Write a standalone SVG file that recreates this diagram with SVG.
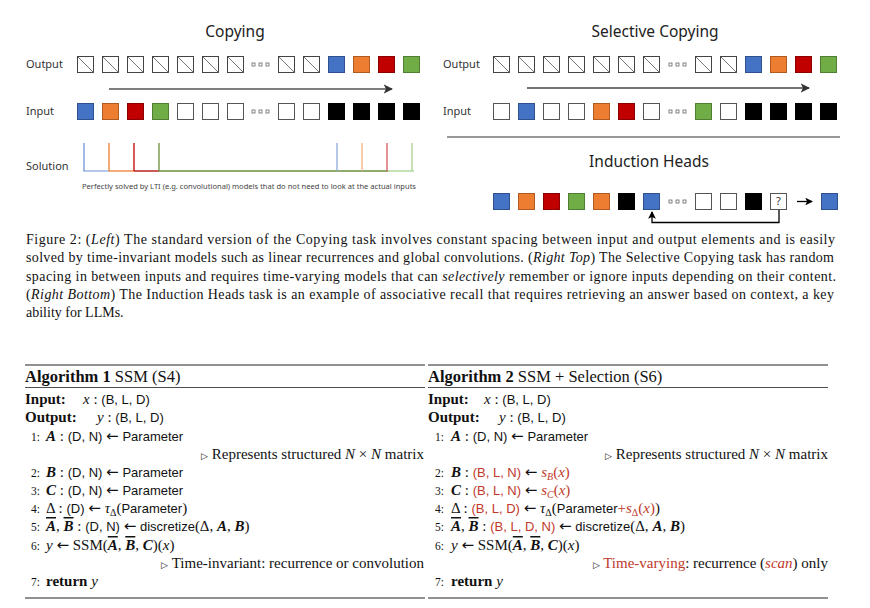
<svg xmlns="http://www.w3.org/2000/svg" width="870" height="608" viewBox="0 0 870 608">
<style>
.ttl{font-family:"Noto Sans","Open Sans",sans-serif;font-size:15.5px;fill:#222}
.lbl{font-family:"Noto Sans","Open Sans",sans-serif;font-size:11px;fill:#333}
.note{font-family:"Noto Sans","Open Sans",sans-serif;font-size:7.4px;fill:#444}
.cap{font-family:"Liberation Serif",serif;font-size:14px;fill:#111}
.al{font-family:"Liberation Serif",serif;font-size:15px;fill:#111}
.ah{font-family:"DejaVu Sans",sans-serif;font-size:15px}
.sf{font-family:"Liberation Sans","DejaVu Sans",sans-serif;font-size:13px}
.num{font-size:11.5px}
.hd{font-size:16.5px}
.b{font-weight:bold}
.i{font-style:italic}
.bi{font-weight:bold;font-style:italic}
.r{fill:#c0392b}
.ov{text-decoration:overline}
.sub{font-size:10px}
.tri{font-size:9px}
.blue{fill:#4472c4;stroke:#2f528f}
.orange{fill:#ed7d31;stroke:#ae5a21}
.red{fill:#c00000;stroke:#8c0000}
.green{fill:#70ad47;stroke:#507e32}
.black{fill:#000;stroke:#000}
.white{fill:#fff;stroke:#555}
.rule{stroke:#222}
</style>
<defs>
<g id="dg"><rect x="0.5" y="0.5" width="16" height="16" fill="#fff" stroke="#444"/><line x1="1" y1="1" x2="16.5" y2="16.5" stroke="#777"/></g>
<rect id="bB" x="0.5" y="0.5" width="16" height="16" class="blue"/>
<rect id="bO" x="0.5" y="0.5" width="16" height="16" class="orange"/>
<rect id="bR" x="0.5" y="0.5" width="16" height="16" class="red"/>
<rect id="bG" x="0.5" y="0.5" width="16" height="16" class="green"/>
<rect id="bK" x="0.5" y="0.5" width="16" height="16" class="black"/>
<rect id="bW" x="0.5" y="0.5" width="16" height="16" class="white"/>
<g id="dots" fill="#fff" stroke="#666" stroke-width="0.8"><rect x="0" y="0" width="3" height="3"/><rect x="7" y="0" width="3" height="3"/><rect x="14" y="0" width="3" height="3"/></g>
<marker id="ah" viewBox="0 0 8 8" refX="7" refY="4" markerWidth="6" markerHeight="6" orient="auto"><path d="M0,0 L8,4 L0,8 L2,4 z" fill="#333"/></marker>
<marker id="ahk" viewBox="0 0 8 8" refX="7" refY="4" markerWidth="6" markerHeight="6" orient="auto"><path d="M0,0 L8,4 L0,8 L2,4 z" fill="#000"/></marker>
</defs>

<!-- Copying panel -->
<g id="copying">
<text class="ttl" x="235" y="37" text-anchor="middle">Copying</text>
<text class="lbl" x="26" y="68">Output</text>
<text class="lbl" x="26" y="115">Input</text>
<g id="copy-output">
<use href="#dg" x="77" y="56"/><use href="#dg" x="102" y="56"/><use href="#dg" x="127" y="56"/><use href="#dg" x="152" y="56"/><use href="#dg" x="177" y="56"/><use href="#dg" x="202" y="56"/><use href="#dg" x="227" y="56"/>
<use href="#dots" x="252" y="63"/>
<use href="#dg" x="278" y="56"/><use href="#dg" x="303" y="56"/>
<use href="#bB" x="328" y="56"/><use href="#bO" x="353" y="56"/><use href="#bR" x="378" y="56"/><use href="#bG" x="403" y="56"/>
</g>
<line x1="109" y1="89" x2="392" y2="89" stroke="#555" stroke-width="1.6" marker-end="url(#ah)"/>
<g id="copy-input">
<use href="#bB" x="77" y="103"/><use href="#bO" x="102" y="103"/><use href="#bR" x="127" y="103"/><use href="#bG" x="152" y="103"/>
<use href="#bW" x="177" y="103"/><use href="#bW" x="202" y="103"/><use href="#bW" x="227" y="103"/>
<use href="#dots" x="252" y="110"/>
<use href="#bW" x="278" y="103"/><use href="#bW" x="303" y="103"/>
<use href="#bK" x="328" y="103"/><use href="#bK" x="353" y="103"/><use href="#bK" x="378" y="103"/><use href="#bK" x="403" y="103"/>
</g>
<g id="solution">
<text class="lbl" x="26" y="170">Solution</text>
<g stroke-width="1.3">
<line x1="83" y1="171" x2="109" y2="171" stroke="#8eaadb"/>
<line x1="109" y1="171" x2="134" y2="171" stroke="#ed7d31"/>
<line x1="134" y1="171" x2="159" y2="171" stroke="#b00000"/>
<line x1="159" y1="171" x2="388" y2="171" stroke="#6b8e3a"/>
<line x1="388" y1="171" x2="414" y2="171" stroke="#a9d18e"/>
<line x1="84" y1="143" x2="84" y2="171" stroke="#6e94d8"/>
<line x1="109" y1="143" x2="109" y2="171" stroke="#ed7d31"/>
<line x1="134" y1="143" x2="134" y2="171" stroke="#c00000"/>
<line x1="159" y1="143" x2="159" y2="171" stroke="#6b8e3a"/>
<line x1="337" y1="143" x2="337" y2="171" stroke="#8eaadb"/>
<line x1="362" y1="143" x2="362" y2="171" stroke="#f4b183"/>
<line x1="387" y1="143" x2="387" y2="171" stroke="#d9595e"/>
<line x1="412" y1="143" x2="412" y2="171" stroke="#a9d18e"/>
</g>
<text class="note" x="82" y="189" textLength="334" lengthAdjust="spacingAndGlyphs">Perfectly solved by LTI (e.g. convolutional) models that do not need to look at the actual inputs</text>
</g>
</g>

<!-- Selective Copying panel -->
<g id="selective-copying">
<text class="ttl" x="655" y="37" text-anchor="middle">Selective Copying</text>
<text class="lbl" x="443" y="68">Output</text>
<text class="lbl" x="443" y="115">Input</text>
<g id="sel-output">
<use href="#dg" x="493" y="56"/><use href="#dg" x="518" y="56"/><use href="#dg" x="543" y="56"/><use href="#dg" x="568" y="56"/><use href="#dg" x="593" y="56"/><use href="#dg" x="618" y="56"/><use href="#dg" x="643" y="56"/>
<use href="#dots" x="669" y="63"/>
<use href="#dg" x="695" y="56"/><use href="#dg" x="720" y="56"/>
<use href="#bB" x="745" y="56"/><use href="#bO" x="770" y="56"/><use href="#bR" x="795" y="56"/><use href="#bG" x="820" y="56"/>
</g>
<line x1="527" y1="88" x2="809" y2="88" stroke="#444" stroke-width="1.6" marker-end="url(#ah)"/>
<g id="sel-input">
<use href="#bW" x="493" y="103"/><use href="#bB" x="518" y="103"/><use href="#bW" x="543" y="103"/><use href="#bW" x="568" y="103"/><use href="#bO" x="593" y="103"/><use href="#bR" x="618" y="103"/><use href="#bW" x="643" y="103"/>
<use href="#dots" x="669" y="110"/>
<use href="#bG" x="695" y="103"/><use href="#bW" x="720" y="103"/>
<use href="#bK" x="745" y="103"/><use href="#bK" x="770" y="103"/><use href="#bK" x="795" y="103"/><use href="#bK" x="820" y="103"/>
</g>
</g>
<line x1="447" y1="137" x2="840" y2="137" stroke="#333" stroke-width="1"/>

<!-- Induction Heads panel -->
<g id="induction-heads">
<text class="ttl" x="649" y="167" text-anchor="middle">Induction Heads</text>
<use href="#bB" x="493" y="193"/><use href="#bO" x="518" y="193"/><use href="#bR" x="543" y="193"/><use href="#bG" x="568" y="193"/><use href="#bO" x="593" y="193"/><use href="#bK" x="618" y="193"/><use href="#bB" x="643" y="193"/>
<use href="#dots" x="669" y="200"/>
<use href="#bW" x="695" y="193"/><use href="#bW" x="720" y="193"/><use href="#bK" x="745" y="193"/>
<g id="query"><use href="#bW" x="770" y="193"/><text class="lbl" x="778.5" y="205" text-anchor="middle" font-size="10" fill="#555">?</text></g>
<use href="#bB" x="821" y="193"/>
</g>
<g id="connectors" fill="none">
<line x1="797" y1="201.5" x2="812" y2="201.5" stroke="#000" stroke-width="1.3" marker-end="url(#ahk)"/>
<path d="M779,210 V222.5 H652 V212" stroke="#000" stroke-width="1.3" marker-end="url(#ahk)"/>
</g>

<!-- Caption -->
<g id="caption">
<text class="cap" x="26" y="244" textLength="809" lengthAdjust="spacing">Figure 2: (<tspan class="i">Left</tspan>) The standard version of the Copying task involves constant spacing between input and output elements and is easily</text>
<text class="cap" x="26" y="262" textLength="808" lengthAdjust="spacing">solved by time-invariant models such as linear recurrences and global convolutions. (<tspan class="i">Right Top</tspan>) The Selective Copying task has random</text>
<text class="cap" x="26" y="281" textLength="810" lengthAdjust="spacing">spacing in between inputs and requires time-varying models that can <tspan class="i">selectively</tspan> remember or ignore inputs depending on their content.</text>
<text class="cap" x="26" y="299" textLength="808" lengthAdjust="spacing">(<tspan class="i">Right Bottom</tspan>) The Induction Heads task is an example of associative recall that requires retrieving an answer based on context, a key</text>
<text class="cap" x="26" y="317">ability for LLMs.</text>
</g>

<!-- Algorithm 1 -->
<g id="algorithm-1" class="al">
<line class="rule" x1="25" y1="365" x2="425" y2="365" stroke-width="1.2"/>
<text class="hd" x="25" y="382"><tspan class="b">Algorithm 1</tspan> SSM (S4)</text>
<line class="rule" x1="25" y1="387.5" x2="425" y2="387.5" stroke-width="0.8"/>
<text x="25" y="404"><tspan class="b">Input:</tspan><tspan x="83" class="i">x</tspan> : <tspan class="sf">(B, L, D)</tspan></text>
<text x="25" y="422"><tspan class="b">Output:</tspan><tspan x="97" class="i">y</tspan> : <tspan class="sf">(B, L, D)</tspan></text>
<text x="31" y="441"><tspan class="num">1:</tspan><tspan x="46" class="bi">A</tspan> : <tspan class="sf">(D, N)</tspan> <tspan class="ah">←</tspan> <tspan class="sf">Parameter</tspan></text>
<text x="424" y="459" text-anchor="end"><tspan class="tri">▷</tspan> Represents structured <tspan class="i">N</tspan> × <tspan class="i">N</tspan> matrix</text>
<text x="31" y="477"><tspan class="num">2:</tspan><tspan x="46" class="bi">B</tspan> : <tspan class="sf">(D, N)</tspan> <tspan class="ah">←</tspan> <tspan class="sf">Parameter</tspan></text>
<text x="31" y="495"><tspan class="num">3:</tspan><tspan x="46" class="bi">C</tspan> : <tspan class="sf">(D, N)</tspan> <tspan class="ah">←</tspan> <tspan class="sf">Parameter</tspan></text>
<text x="31" y="513"><tspan class="num">4:</tspan><tspan x="46">Δ</tspan> : <tspan class="sf">(D)</tspan> <tspan class="ah">←</tspan> <tspan class="i">τ</tspan><tspan class="sub" dy="3">Δ</tspan><tspan dy="-3">(</tspan><tspan class="sf">Parameter</tspan>)</text>
<text x="31" y="531"><tspan class="num">5:</tspan><tspan x="46" class="bi ov">A</tspan>, <tspan class="bi ov">B</tspan> : <tspan class="sf">(D, N)</tspan> <tspan class="ah">←</tspan> <tspan class="sf">discretize</tspan>(Δ, <tspan class="bi">A</tspan>, <tspan class="bi">B</tspan>)</text>
<text x="31" y="550"><tspan class="num">6:</tspan><tspan x="46" class="i">y</tspan> <tspan class="ah">←</tspan> SSM(<tspan class="bi ov">A</tspan>, <tspan class="bi ov">B</tspan>, <tspan class="bi">C</tspan>)(<tspan class="i">x</tspan>)</text>
<text x="424" y="568" text-anchor="end"><tspan class="tri">▷</tspan> Time-invariant: recurrence or convolution</text>
<text x="31" y="586"><tspan class="num">7:</tspan><tspan x="46" class="b">return</tspan> <tspan class="i">y</tspan></text>
<line class="rule" x1="25" y1="598" x2="425" y2="598" stroke-width="1.2"/>
</g>

<!-- Algorithm 2 -->
<g id="algorithm-2" class="al">
<line class="rule" x1="428" y1="365" x2="828" y2="365" stroke-width="1.2"/>
<text class="hd" x="428" y="382"><tspan class="b">Algorithm 2</tspan> SSM + Selection (S6)</text>
<line class="rule" x1="428" y1="387.5" x2="828" y2="387.5" stroke-width="0.8"/>
<text x="428" y="404"><tspan class="b">Input:</tspan><tspan x="484" class="i">x</tspan> : <tspan class="sf">(B, L, D)</tspan></text>
<text x="428" y="422"><tspan class="b">Output:</tspan><tspan x="499" class="i">y</tspan> : <tspan class="sf">(B, L, D)</tspan></text>
<text x="435" y="441"><tspan class="num">1:</tspan><tspan x="451" class="bi">A</tspan> : <tspan class="sf">(D, N)</tspan> <tspan class="ah">←</tspan> <tspan class="sf">Parameter</tspan></text>
<text x="828" y="459" text-anchor="end"><tspan class="tri">▷</tspan> Represents structured <tspan class="i">N</tspan> × <tspan class="i">N</tspan> matrix</text>
<text x="435" y="477"><tspan class="num">2:</tspan><tspan x="451" class="bi">B</tspan> : <tspan class="sf r">(B, L, N)</tspan> <tspan class="ah">←</tspan> <tspan class="i r">s</tspan><tspan class="sub i r" dy="3">B</tspan><tspan class="r" dy="-3">(</tspan><tspan class="i r">x</tspan><tspan class="r">)</tspan></text>
<text x="435" y="495"><tspan class="num">3:</tspan><tspan x="451" class="bi">C</tspan> : <tspan class="sf r">(B, L, N)</tspan> <tspan class="ah">←</tspan> <tspan class="i r">s</tspan><tspan class="sub i r" dy="3">C</tspan><tspan class="r" dy="-3">(</tspan><tspan class="i r">x</tspan><tspan class="r">)</tspan></text>
<text x="435" y="513"><tspan class="num">4:</tspan><tspan x="451">Δ</tspan> : <tspan class="sf r">(B, L, D)</tspan> <tspan class="ah">←</tspan> <tspan class="i">τ</tspan><tspan class="sub" dy="3">Δ</tspan><tspan dy="-3">(</tspan><tspan class="sf">Parameter</tspan><tspan class="r">+</tspan><tspan class="i r">s</tspan><tspan class="sub r" dy="3">Δ</tspan><tspan class="r" dy="-3">(</tspan><tspan class="i r">x</tspan><tspan class="r">)</tspan>)</text>
<text x="435" y="531"><tspan class="num">5:</tspan><tspan x="451" class="bi ov">A</tspan>, <tspan class="bi ov">B</tspan> : <tspan class="sf r">(B, L, D, N)</tspan> <tspan class="ah">←</tspan> <tspan class="sf">discretize</tspan>(Δ, <tspan class="bi">A</tspan>, <tspan class="bi">B</tspan>)</text>
<text x="435" y="550"><tspan class="num">6:</tspan><tspan x="451" class="i">y</tspan> <tspan class="ah">←</tspan> SSM(<tspan class="bi ov">A</tspan>, <tspan class="bi ov">B</tspan>, <tspan class="bi">C</tspan>)(<tspan class="i">x</tspan>)</text>
<text x="828" y="568" text-anchor="end"><tspan class="tri">▷</tspan> <tspan class="r">Time-varying</tspan>: recurrence (<tspan class="i r">scan</tspan>) only</text>
<text x="435" y="586"><tspan class="num">7:</tspan><tspan x="451" class="b">return</tspan> <tspan class="i">y</tspan></text>
<line class="rule" x1="428" y1="598" x2="828" y2="598" stroke-width="1.2"/>
</g>
</svg>
